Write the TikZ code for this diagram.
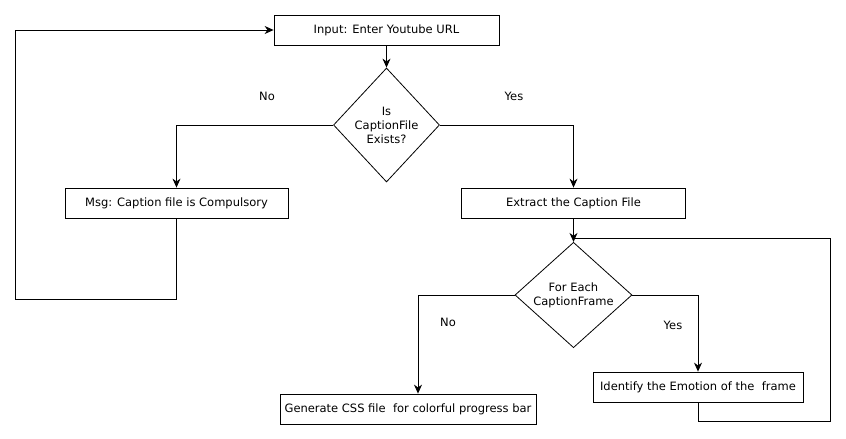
\documentclass[tikz,border=0pt]{standalone}
\usepackage{fontspec}
\setmainfont{DejaVu Sans}
\usetikzlibrary{shapes.geometric,arrows.meta}

\begin{document}
\begin{tikzpicture}[x=1pt,y=-1pt,line width=.8pt,
	box/.style={draw, rectangle, minimum height=30pt, inner sep=0pt, font=\fontsize{11.5}{14}\selectfont},
	decision/.style={draw, diamond, inner sep=0pt, align=center, font=\fontsize{11.5}{14}\selectfont},
	arrow/.style={-{Stealth[length=9pt,width=8pt]}},
	lbl/.style={font=\fontsize{11.5}{14}\selectfont}
]
	\useasboundingbox (0,0) rectangle (846,439);

	% boxes
	\node[box, minimum width=225pt] (input) at (386.5,30) {Input: Enter Youtube URL};
	\node[box, minimum width=223pt] (msg) at (176.5,203) {Msg: Caption file is Compulsory};
	\node[box, minimum width=224pt] (extract) at (573.5,203) {Extract the Caption File};
	\node[box, minimum width=256pt] (css) at (408,409) {Generate CSS file\ \ for colorful progress bar};
	\node[box, minimum width=210pt] (emotion) at (698,387) {Identify the Emotion of the\ \ frame};

	% decisions
	\node[decision, minimum width=106pt, minimum height=114pt] (exists) at (386.5,125) {Is\\CaptionFile\\Exists?};
	\node[decision, minimum width=117pt, minimum height=93pt] (each) at (573.5,295) {For Each\\CaptionFrame};
	\coordinate (join) at (573.5,238);

	% labels
	\foreach \pos / \text in {(267,96)/No, (514,96)/Yes, (448,322)/No, (673,325)/Yes}
		\node[lbl] at \pos {\text};

	% connectors
	\draw[arrow] (input) -- (exists);
	\draw[arrow] (exists.west) -| (msg.north);
	\draw[arrow] (exists.east) -| (extract.north);
	\draw[arrow] (msg.south) |- (15,299) |- (input.west);
	\draw[arrow] (extract.south) -- (each.north);
	\draw[arrow] (each.west) -| ([xshift=10pt]css.north);
	\draw[arrow] (each.east) -| (emotion.north);
	\draw (emotion.south) |- (830,421) |- (join);
\end{tikzpicture}
\end{document}
